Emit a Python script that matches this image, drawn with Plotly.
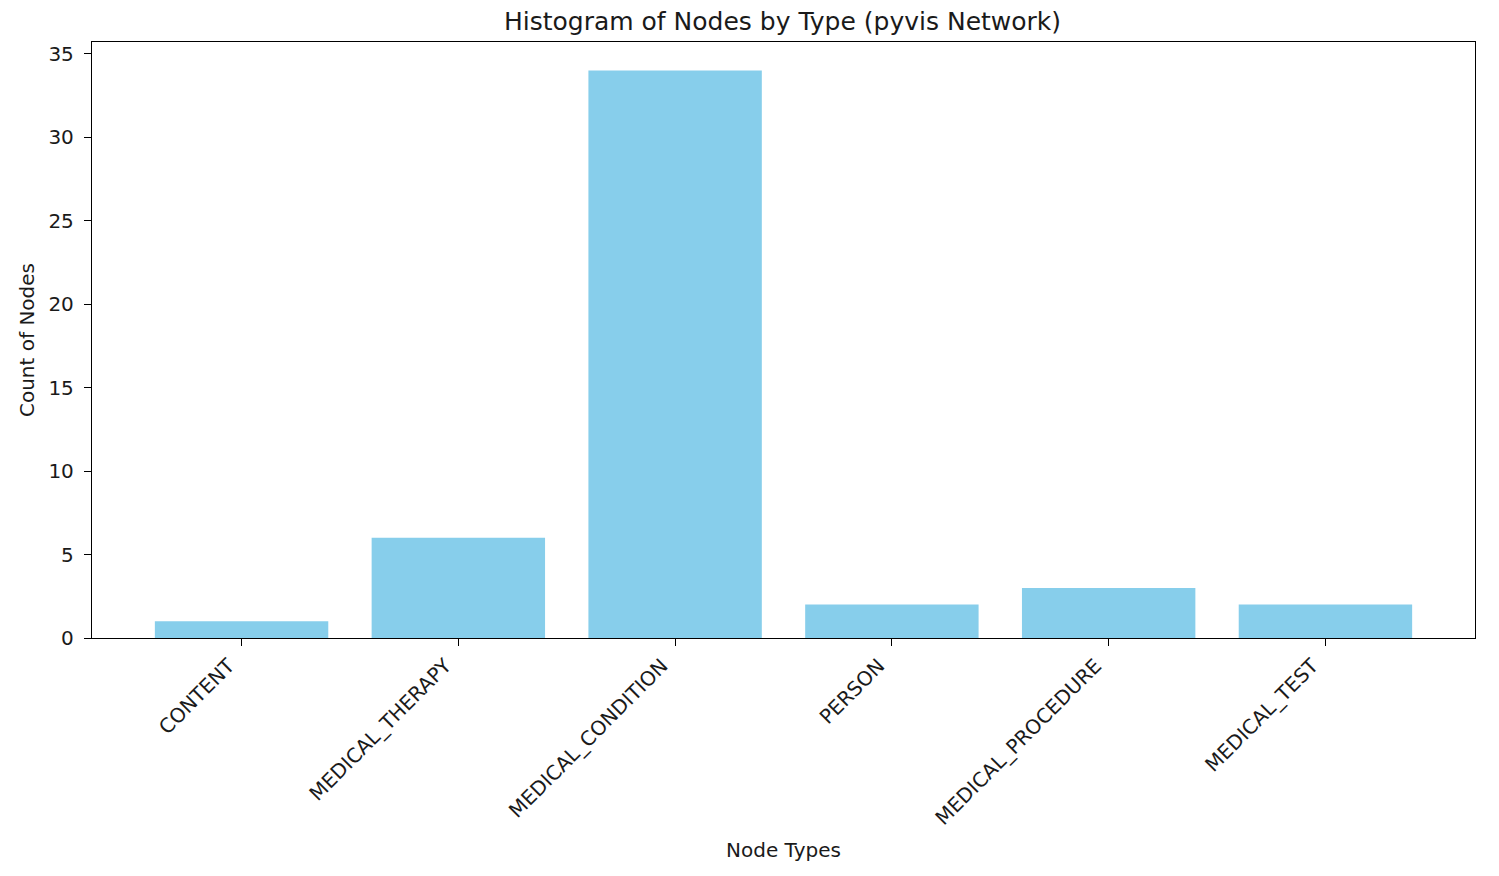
import plotly.graph_objects as go

categories = ["CONTENT", "MEDICAL_THERAPY", "MEDICAL_CONDITION", "PERSON", "MEDICAL_PROCEDURE", "MEDICAL_TEST"]
counts = [1, 6, 34, 2, 3, 2]
y_ticks = [0, 5, 10, 15, 20, 25, 30, 35]

FONT = "DejaVu Sans"
TXT = "#1a1a1a"

W, H = 1483, 860

fig = go.Figure()
fig.add_trace(go.Bar(
    x=list(range(len(categories))),
    y=counts,
    width=0.8,
    marker=dict(color="skyblue", line=dict(width=0)),
))

fig.update_layout(
    width=W, height=H,
    paper_bgcolor="white", plot_bgcolor="white",
    margin=dict(l=84, r=16, t=34, b=230),
    showlegend=False,
    font=dict(family=FONT, color=TXT, size=20),
    title=dict(text="Histogram of Nodes by Type (pyvis Network)", x=(84 + W - 16) / 2 / W - 1 / W, xanchor="center",
               y=1 - 13 / H, yanchor="middle", font=dict(size=25, family=FONT, color=TXT)),
)
fig.update_xaxes(
    range=[-0.69, 5.69],
    tickmode="array", tickvals=list(range(len(categories))), ticktext=categories,
    tickangle=-45,
    ticklabelshift=-13,
    showline=True, mirror=True, linecolor="black", linewidth=1.3,
    ticks="outside", ticklen=7, tickcolor="black", tickwidth=1.3,
    showgrid=False, zeroline=False,
    tickfont=dict(size=20, family=FONT, color=TXT),
    title=dict(text="Node Types", font=dict(size=20, family=FONT, color=TXT), standoff=14),
    automargin=False,
)
fig.update_yaxes(
    range=[0, 35.7],
    tickmode="array", tickvals=y_ticks,
    showline=True, mirror=True, linecolor="black", linewidth=1.3,
    ticks="outside", ticklen=7, tickcolor="black", tickwidth=1.3,
    ticklabelstandoff=6,
    showgrid=False, zeroline=False,
    tickfont=dict(size=20, family=FONT, color=TXT),
    title=dict(text="Count of Nodes", font=dict(size=20, family=FONT, color=TXT), standoff=8),
    automargin=False,
)

fig.write_html("out.html")
